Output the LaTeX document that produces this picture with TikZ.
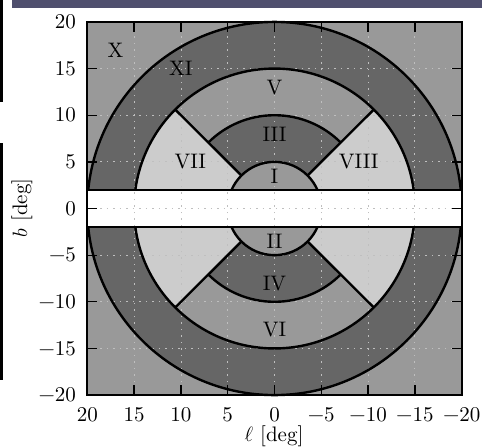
\documentclass[tikz,border=0pt]{standalone}
\usepackage{fontspec}
\setmainfont{lmroman10-regular}[Extension=.otf]
\usepackage{xcolor}
\usepackage{tikz}
\usetikzlibrary{positioning}
\definecolor{regdark}{HTML}{666666}
\definecolor{regmid}{HTML}{999999}
\definecolor{reglight}{HTML}{CCCCCC}
\definecolor{slideband}{HTML}{4F4F6E}
\newcommand\signednum[1]{\ifnum#1<0 −\number\numexpr-#1\relax\else#1\fi}
\tikzset{
  bound/.style={line width=2.4pt, draw=black},
  frameline/.style={line width=2pt, draw=black},
  gridline/.style={draw=black!25, line width=0.8pt, dash pattern=on 1.5pt off 5pt},
  tickmark/.style={line width=1.3pt, draw=black},
  reglabel/.style={font=\fontsize{21}{25}\selectfont, inner sep=0pt, text=black},
  ticklabel/.style={font=\fontsize{21}{25}\selectfont, inner sep=0pt},
}

\begin{document}
\begin{tikzpicture}[x=9.36pt, y=9.33pt]
  \useasboundingbox (-29.33,-25.67) rectangle (22.17,22.35);
  % slide remnants
  \fill[slideband] (-28.04,21.49) rectangle (22.17,22.35);
  \fill[black] (-29.33,11.41) rectangle (-29.0,22.35);
  \fill[black] (-29.33,-18.38) rectangle (-29.0,7.02);
  % regions
  \fill[regmid] (-20,-20) rectangle (20,20);
  \fill[regdark] (0,0) circle[radius=20];
  \fill[regmid] (0,0) circle[radius=15];
  \fill[regdark] (0,0) circle[radius=10];
  \begin{scope}
    \clip (0,0) -- (20,20) -- (20,-20) -- cycle (0,0) -- (-20,20) -- (-20,-20) -- cycle;
    \fill[reglight] (0,0) circle[radius=15];
  \end{scope}
  \fill[regmid] (0,0) circle[radius=5];
  \fill[white] (-20,-2) rectangle (20,2);
  % grid
  \foreach \t in {-15,-10,...,15} {
    \draw[gridline] (\t,-20) -- (\t,20);
    \draw[gridline] (-20,\t) -- (20,\t);
  }
  % boundaries
  \begin{scope}
    \clip (-21,2) rectangle (21,21) (-21,-2) rectangle (21,-21);
    \draw[bound] (0,0) circle[radius=20];
    \draw[bound] (0,0) circle[radius=15];
    \draw[bound] (0,0) circle[radius=5];
    \foreach \a in {45,135,225,315}
      \draw[bound] (\a:5) -- (\a:15);
  \end{scope}
  \begin{scope}
    \clip (0,0) -- (20,20) -- (-20,20) -- cycle (0,0) -- (20,-20) -- (-20,-20) -- cycle;
    \draw[bound] (0,0) circle[radius=10];
  \end{scope}
  \draw[bound] (-20,2) -- (20,2);
  \draw[bound] (-20,-2) -- (20,-2);
  \draw[frameline] (-20,-20) rectangle (20,20);
  % ticks
  \foreach \t in {-15,-10,...,15} {
    \draw[tickmark] (\t,-20) -- ++(0,1.07);
    \draw[tickmark] (\t,20) -- ++(0,-1.07);
    \draw[tickmark] (-20,\t) -- ++(1.07,0);
    \draw[tickmark] (20,\t) -- ++(-1.07,0);
  }
  \foreach \t [evaluate=\t as \lab using int(-\t)] in {-20,-15,...,20} {
    \node[ticklabel] (lb\lab) at (\t,-22.1) {\signednum{\lab}};
    \node[ticklabel, anchor=east] (bb\t) at (-21.2,\t) {\signednum{\t}};
  }
  \node[ticklabel] (xlab) at (-0.05,-24.45) {$\ell$ [deg]};
  \node[ticklabel, rotate=90] (ylab) at (-26.98,0.05) {$b$ [deg]};
  % region names
  \node[reglabel] (rI) at (0,3.5) {I};
  \node[reglabel] (rII) at (0,-3.5) {II};
  \node[reglabel] (rIII) at (0,8) {III};
  \node[reglabel] (rIV) at (0,-8) {IV};
  \node[reglabel] (rV) at (0,13) {V};
  \node[reglabel] (rVI) at (0,-13) {VI};
  \node[reglabel] (rVII) at (-9,5) {VII};
  \node[reglabel] (rVIII) at (9,5) {VIII};
  \node[reglabel] (rX) at (-17,17) {X};
  \node[reglabel] (rXI) at (-10,15) {XI};
\end{tikzpicture}
\end{document}
